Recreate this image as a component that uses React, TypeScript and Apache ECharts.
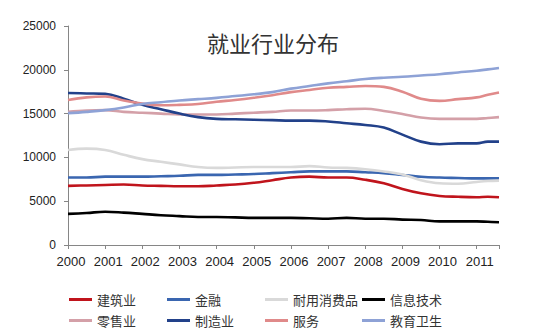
import React, { useEffect, useRef } from "react";
import * as echarts from "echarts";

const years = [2000, 2000.5, 2001, 2001.5, 2002, 2002.5, 2003, 2003.5, 2004, 2004.5, 2005, 2005.5, 2006, 2006.5, 2007, 2007.5, 2008, 2008.5, 2009, 2009.5, 2010, 2010.5, 2011, 2011.3, 2011.6];

const construction = [6750, 6800, 6850, 6900, 6800, 6750, 6700, 6700, 6800, 6900, 7100, 7400, 7700, 7800, 7700, 7700, 7450, 7050, 6400, 5900, 5600, 5500, 5450, 5500, 5450];
const finance = [7700, 7700, 7800, 7800, 7800, 7850, 7900, 8000, 8000, 8050, 8100, 8200, 8300, 8400, 8400, 8400, 8300, 8200, 8000, 7800, 7700, 7650, 7600, 7600, 7600];
const durables = [10850, 11000, 10850, 10300, 9800, 9500, 9200, 8900, 8800, 8850, 8900, 8900, 8900, 9000, 8850, 8800, 8650, 8400, 8050, 7400, 7050, 7000, 7200, 7300, 7350];
const infoTech = [3550, 3650, 3800, 3700, 3550, 3400, 3300, 3200, 3200, 3150, 3100, 3100, 3100, 3050, 3000, 3100, 3000, 3000, 2900, 2850, 2700, 2700, 2700, 2650, 2600];
const retail = [15200, 15350, 15400, 15200, 15100, 15000, 14900, 14900, 14900, 15000, 15100, 15200, 15350, 15350, 15400, 15500, 15550, 15300, 14950, 14550, 14400, 14400, 14400, 14500, 14600];
const manufacturing = [17350, 17300, 17250, 16700, 16000, 15500, 15000, 14600, 14400, 14350, 14300, 14250, 14200, 14200, 14100, 13900, 13700, 13400, 12600, 11800, 11500, 11600, 11600, 11800, 11800];
const services = [16550, 16850, 16950, 16500, 16150, 15950, 16000, 16100, 16350, 16550, 16800, 17100, 17450, 17700, 17950, 18050, 18150, 18050, 17500, 16700, 16450, 16650, 16850, 17150, 17400];
const eduHealth = [15050, 15200, 15400, 15700, 16100, 16300, 16500, 16650, 16800, 17000, 17200, 17450, 17850, 18150, 18450, 18700, 18950, 19100, 19200, 19350, 19500, 19700, 19900, 20050, 20200];

const seriesNames = ["建筑业", "金融", "耐用消费品", "信息技术", "零售业", "制造业", "服务", "教育卫生"];
const seriesValues = [construction, finance, durables, infoTech, retail, manufacturing, services, eduHealth];
const seriesColors = ["#C0141C", "#3A66B0", "#D9D9D9", "#000000", "#D4A0A8", "#22418A", "#E08A8A", "#8EA2D6"];

const titleText = "就业行业分布";

export default function App() {
  const ref = useRef<HTMLDivElement>(null);
  useEffect(() => {
    document.body.style.margin = "0";
    const chart = echarts.init(ref.current!, null, { renderer: "svg" });
    const legendLefts = [64, 162, 260, 357];
    const legendTops = [288, 309];
    const option: any = {
      animation: false,
      backgroundColor: "#ffffff",
      title: {
        text: titleText,
        left: 202,
        top: 26,
        textStyle: { fontFamily: "Noto Sans CJK SC", fontWeight: "normal", fontSize: 22, color: "#333" },
      },
      legend: seriesNames.map((n, i) => ({
        data: [n],
        left: legendLefts[i % 4],
        top: legendTops[Math.floor(i / 4)],
        icon: "rect",
        itemWidth: 23,
        itemHeight: 3,
        textStyle: { fontFamily: "Noto Sans CJK SC", fontSize: 13, color: "#333" },
      })),
      grid: { left: 68, right: 45, top: 26, bottom: 90, containLabel: false },
      xAxis: {
        type: "value",
        min: 2000,
        max: 2011.6,
        interval: 1,
        splitLine: { show: false },
        axisLine: { lineStyle: { color: "#868686" } },
        axisTick: { length: 4, lineStyle: { color: "#868686" } },
        axisLabel: {
          fontFamily: "Liberation Sans",
          fontSize: 13,
          color: "#222",
          margin: 10,
          padding: [0, 0, 0, 6],
          formatter: (v: number) => (Number.isInteger(v) ? String(v) : ""),
        },
      },
      yAxis: {
        type: "value",
        min: 0,
        max: 25000,
        interval: 5000,
        splitLine: { show: false },
        axisLine: { show: true, lineStyle: { color: "#868686" } },
        axisTick: { show: true, length: 4, lineStyle: { color: "#868686" } },
        axisLabel: {
          fontFamily: "Liberation Sans",
          fontSize: 12,
          color: "#222",
          margin: 12,
          formatter: (v: number) => String(v),
        },
      },
      series: seriesNames.map((n, i) => ({
        name: n,
        type: "line",
        showSymbol: false,
        smooth: 0.4,
        data: years.map((y, j) => [y, seriesValues[i][j]]),
        lineStyle: { color: seriesColors[i], width: 2.6 },
        itemStyle: { color: seriesColors[i] },
      })),
    };
    chart.setOption(option);
    return () => chart.dispose();
  }, []);
  return <div ref={ref} style={{ position: "fixed", left: 0, top: 0, width: 544, height: 335 }} />;
}
